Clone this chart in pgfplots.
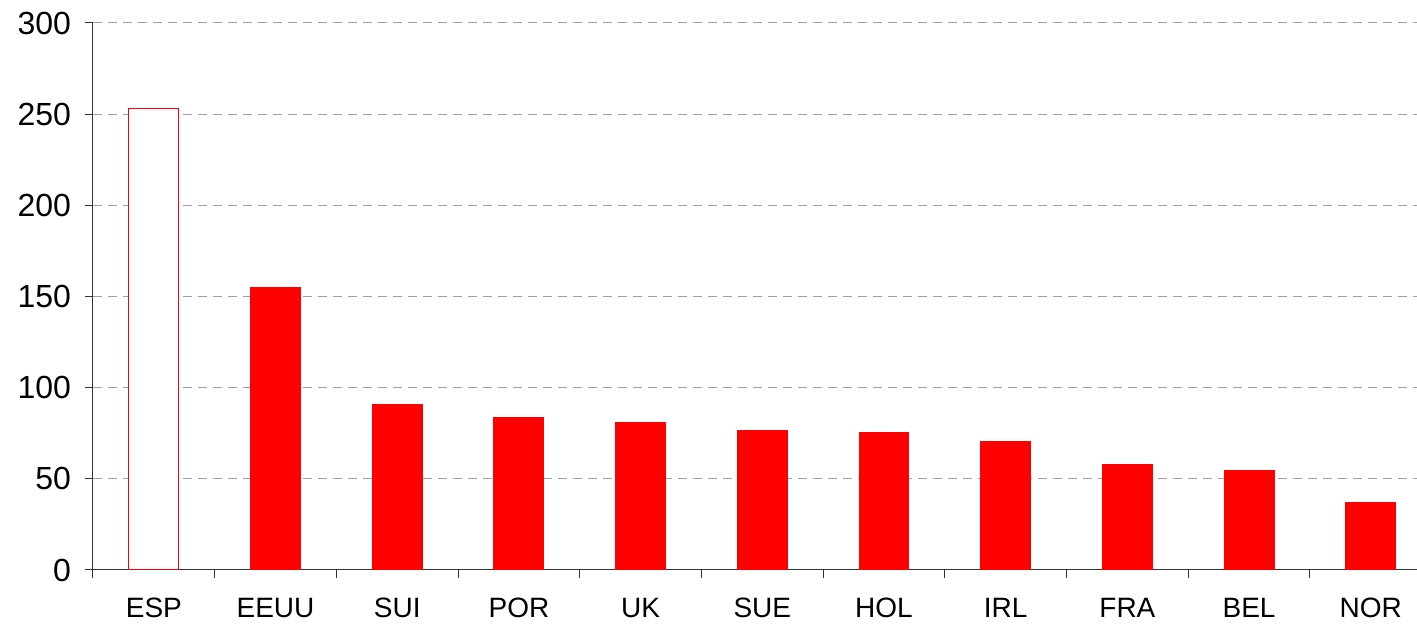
\documentclass[border=0pt]{standalone}
\usepackage{fontspec}
\setmainfont{Liberation Sans}
\usepackage{pgfplots}
\pgfplotsset{compat=1.18}

\definecolor{barred}{RGB}{255,0,0}
\definecolor{gridgray}{RGB}{160,160,160}

\begin{document}
\begin{tikzpicture}
\begin{axis}[
    scale only axis,
    width=662pt, height=273.5pt,
    ybar, bar width=0.41, bar shift=0pt,
    xmin=-0.5, xmax=10.38,
    ymin=0, ymax=300,
    ytick={0,50,...,300},
    xtick={0,...,10},
    xticklabels={ESP,EEUU,SUI,POR,UK,SUE,HOL,IRL,FRA,BEL,NOR},
    minor xtick={-0.5,0.5,...,9.5},
    major x tick style={draw=none},
    axis lines=left,
    axis line style={-, black!80, line width=0.5pt},
    tick align=outside,
    major tick length=4pt, minor tick length=4pt,
    tick style={black!80, line width=0.5pt},
    ymajorgrids=true,
    grid style={gridgray, line width=0.5pt, dash pattern=on 4.5pt off 3pt},
    yticklabel style={font=\fontsize{16}{19}\selectfont, xshift=-3.5pt},
    xticklabel style={font=\fontsize{14}{17}\selectfont, yshift=-6.5pt},
    /pgf/number format/assume math mode=true,
    clip=false,
]
\addplot[fill=white, draw=barred, line width=0.5pt] coordinates {(0,253)};
\addplot[fill=barred, draw=barred, line width=0pt] coordinates {
  (1,155) (2,91) (3,83.5) (4,81) (5,76.5) (6,75.5) (7,70.5) (8,58) (9,54.5) (10,37)};
\coordinate (sw) at (rel axis cs:0,0);
\coordinate (ne) at (rel axis cs:1,1);
\end{axis}
\pgfresetboundingbox
\path ([shift={(-46.5pt,-27pt)}]sw) rectangle ([shift={(0pt,11.5pt)}]ne);
\end{tikzpicture}
\end{document}
